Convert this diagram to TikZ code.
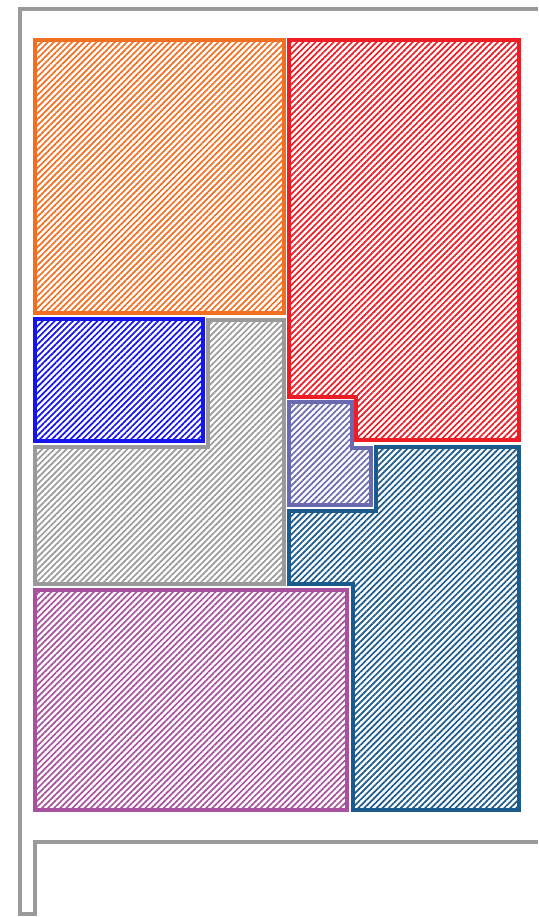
\documentclass[tikz,border=0pt]{standalone}
\usetikzlibrary{patterns.meta}
\definecolor{worange}{HTML}{F26F21}
\definecolor{wred}{HTML}{EE1C25}
\definecolor{wgray}{HTML}{9A9A9A}
\definecolor{wblue}{HTML}{1414EE}
\definecolor{wlav}{HTML}{6A6AB0}
\definecolor{wdark}{HTML}{1A5A8C}
\definecolor{wpurple}{HTML}{A8529F}
\tikzset{
  room/.style={line width=4pt, draw=#1, line join=miter,
    pattern={Lines[angle=45,distance=4.3pt,line width=1.7pt]}, pattern color=#1},
  wall/.style={line width=4pt, draw=wgray, line join=miter}
}
\begin{document}
\begin{tikzpicture}[x=1pt,y=1pt]
\useasboundingbox (0,0) rectangle (538,-917);
% outer wall
\draw[wall] (538,-9) -- (20,-9) -- (20,-914) -- (35,-914) -- (35,-842) -- (538,-842);
% orange
\path[room=worange] (35,-40) rectangle (284,-313);
% red
\path[room=wred] (289,-40) -- (519,-40) -- (519,-440) -- (356,-440) -- (356,-397) -- (289,-397) -- cycle;
% gray
\path[room=wgray] (208,-320) -- (284,-320) -- (284,-584) -- (35,-584) -- (35,-447) -- (208,-447) -- cycle;
% blue
\path[room=wblue] (35,-319) rectangle (203,-441);
% lavender
\path[room=wlav] (289,-402) -- (352,-402) -- (352,-448) -- (371,-448) -- (371,-505) -- (289,-505) -- cycle;
% dark blue
\path[room=wdark] (376,-447) -- (519,-447) -- (519,-810) -- (353,-810) -- (353,-584) -- (289,-584) -- (289,-511) -- (376,-511) -- cycle;
% purple
\path[room=wpurple] (35,-590) rectangle (347,-810);
\end{tikzpicture}
\end{document}
